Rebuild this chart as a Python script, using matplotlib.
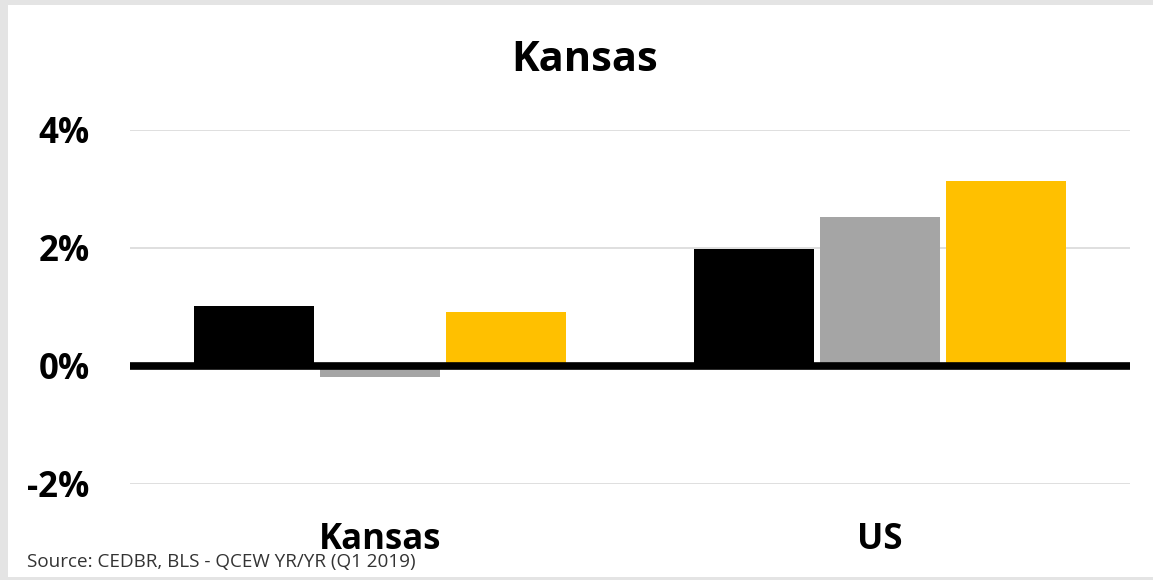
import numpy as np
import matplotlib.pyplot as plt
from matplotlib.patches import Rectangle

# values (percent, YR/YR)
categories = ['Kansas', 'US']
series_a = [1.01, 1.97]    # black
series_b = [-0.20, 2.52]   # gray
series_c = [0.91, 3.12]    # yellow
y_ticks = [-2, 0, 2, 4]
y_tick_labels = ['-2%', '0%', '2%', '4%']

plt.rcParams['font.family'] = ['Open Sans', 'DejaVu Sans']

W, H = 1153, 580
fig = plt.figure(figsize=(W / 100, H / 100), dpi=100)
fig.patch.set_facecolor('#e4e4e4')
# white chart area inside a thin gray frame
fig.patches.append(Rectangle((8 / W, 3 / H), 1.0, 572 / H, transform=fig.transFigure,
                             facecolor='white', edgecolor='none', zorder=-10))

ax = fig.add_axes([130 / W, (H - 483.5) / H, 1000 / W, 354 / H])
ax.set_facecolor('none')

x = np.arange(len(categories))
bw = 0.24
off = 0.252
ax.bar(x - off, series_a, bw, color='#000000', zorder=2)
ax.bar(x, series_b, bw, color='#a5a5a5', zorder=2)
ax.bar(x + off, series_c, bw, color='#ffc000', zorder=2)

ax.axhline(0, color='black', lw=5.5, zorder=3)
for t in y_ticks:
    if t != 0:
        ax.axhline(t, color='#d6d6d6', lw=1.1, zorder=1)

ax.set_xlim(-0.5, 1.5)
ax.set_ylim(-2, 4)
ax.set_yticks(y_ticks)
ax.set_yticklabels(y_tick_labels, fontsize=25, fontweight='bold')
ax.set_xticks(x)
ax.set_xticklabels(categories, fontsize=25, fontweight='bold')
ax.tick_params(axis='y', length=0, pad=29)
ax.tick_params(axis='x', length=0, pad=28)
for s in ax.spines.values():
    s.set_visible(False)

fig.text(585 / W, (H - 71) / H, 'Kansas', fontsize=30, fontweight='bold',
         ha='center', va='baseline')
fig.text(27 / W, (H - 567) / H, 'Source: CEDBR, BLS - QCEW YR/YR (Q1 2019)',
         fontsize=13.6, color='#333333', ha='left', va='baseline')

fig.savefig('out.png', dpi=100, facecolor=fig.get_facecolor())
